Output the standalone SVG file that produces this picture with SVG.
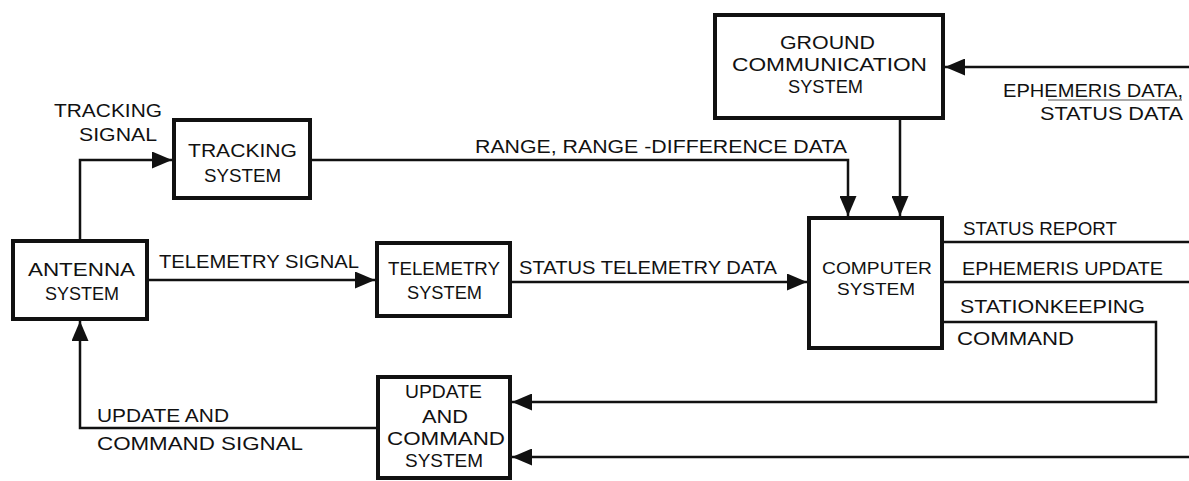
<svg xmlns="http://www.w3.org/2000/svg" width="1189" height="481" viewBox="0 0 1189 481">
  <style>
    .box { fill: #fff; stroke: #111; stroke-width: 4; }
    .wire { fill: none; stroke: #111; stroke-width: 2.5; }
    .lbl { font-family: "Liberation Sans", Arial, sans-serif; font-size: 19px; fill: #111; }
    .tight { font-size: 17px; }
  </style>
  <defs>
    <marker id="arrow" markerUnits="userSpaceOnUse" markerWidth="20" markerHeight="17" refX="20" refY="8.5" orient="auto">
      <path d="M0,0 L20,8.5 L0,17 Z" fill="#111"/>
    </marker>
  </defs>

  <rect width="1189" height="481" fill="#fff"/>

  <!-- connectors -->
  <g id="connectors">
    <path class="wire" d="M80,239 V160 H172" marker-end="url(#arrow)"/>
    <path class="wire" d="M149,280 H375" marker-end="url(#arrow)"/>
    <path class="wire" d="M512,282 H807" marker-end="url(#arrow)"/>
    <path class="wire" d="M312,160 H848 V216" marker-end="url(#arrow)"/>
    <path class="wire" d="M900,120 V216" marker-end="url(#arrow)"/>
    <path class="wire" d="M1189,67 H945" marker-end="url(#arrow)"/>
    <path class="wire" d="M944,242 H1189"/>
    <path class="wire" d="M944,282 H1189"/>
    <path class="wire" d="M944,322 H1156 V402 H512" marker-end="url(#arrow)"/>
    <path class="wire" d="M1189,457 H512" marker-end="url(#arrow)"/>
    <path class="wire" d="M376,428 H80 V321" marker-end="url(#arrow)"/>

    <text class="lbl" x="54" y="117" textLength="108" lengthAdjust="spacingAndGlyphs">TRACKING</text>
    <text class="lbl" x="79" y="141" textLength="78" lengthAdjust="spacingAndGlyphs">SIGNAL</text>
    <text class="lbl" x="159" y="268" textLength="200" lengthAdjust="spacingAndGlyphs">TELEMETRY SIGNAL</text>
    <text class="lbl" x="519" y="274" textLength="258" lengthAdjust="spacingAndGlyphs">STATUS TELEMETRY DATA</text>
    <text class="lbl" x="475" y="153" textLength="372" lengthAdjust="spacingAndGlyphs">RANGE, RANGE -DIFFERENCE DATA</text>
    <text class="lbl" x="1003" y="97" textLength="180" lengthAdjust="spacingAndGlyphs">EPHEMERIS DATA,</text>
    <line x1="1048" y1="100" x2="1182" y2="100" stroke="#555" stroke-width="1"/>
    <text class="lbl" x="1040" y="120" textLength="143" lengthAdjust="spacingAndGlyphs">STATUS DATA</text>
    <text class="lbl" x="963" y="235" textLength="154" lengthAdjust="spacingAndGlyphs">STATUS REPORT</text>
    <text class="lbl" x="962" y="275" textLength="201" lengthAdjust="spacingAndGlyphs">EPHEMERIS UPDATE</text>
    <text class="lbl" x="960" y="313" textLength="185" lengthAdjust="spacingAndGlyphs">STATIONKEEPING</text>
    <text class="lbl" x="957" y="345" textLength="117" lengthAdjust="spacingAndGlyphs">COMMAND</text>
    <text class="lbl" x="97" y="422" textLength="132" lengthAdjust="spacingAndGlyphs">UPDATE AND</text>
    <text class="lbl" x="97" y="450" textLength="206" lengthAdjust="spacingAndGlyphs">COMMAND SIGNAL</text>
  </g>

  <!-- nodes -->
  <g id="tracking-system">
    <rect class="box" x="174" y="120" width="136" height="78"/>
    <text class="lbl" x="188" y="157" textLength="109" lengthAdjust="spacingAndGlyphs">TRACKING</text>
    <text class="lbl" x="204" y="182" textLength="77" lengthAdjust="spacingAndGlyphs">SYSTEM</text>
  </g>

  <g id="antenna-system">
    <rect class="box" x="13" y="241" width="134" height="78"/>
    <text class="lbl" x="28" y="276" textLength="107" lengthAdjust="spacingAndGlyphs">ANTENNA</text>
    <text class="lbl" x="45" y="300" textLength="74" lengthAdjust="spacingAndGlyphs">SYSTEM</text>
  </g>

  <g id="telemetry-system">
    <rect class="box" x="377" y="243" width="133" height="73"/>
    <text class="lbl" x="388" y="275" textLength="112" lengthAdjust="spacingAndGlyphs">TELEMETRY</text>
    <text class="lbl" x="407" y="299" textLength="75" lengthAdjust="spacingAndGlyphs">SYSTEM</text>
  </g>

  <g id="computer-system">
    <rect class="box" x="809" y="218" width="133" height="130"/>
    <text class="lbl tight" x="822" y="274" textLength="110" lengthAdjust="spacingAndGlyphs">COMPUTER</text>
    <text class="lbl tight" x="837" y="295" textLength="78" lengthAdjust="spacingAndGlyphs">SYSTEM</text>
  </g>

  <g id="ground-communication-system">
    <rect class="box" x="715" y="15" width="228" height="103"/>
    <text class="lbl" x="780" y="49" textLength="95" lengthAdjust="spacingAndGlyphs">GROUND</text>
    <text class="lbl" x="732" y="71" textLength="195" lengthAdjust="spacingAndGlyphs">COMMUNICATION</text>
    <text class="lbl" x="788" y="93" textLength="75" lengthAdjust="spacingAndGlyphs">SYSTEM</text>
  </g>

  <g id="update-and-command-system">
    <rect class="box" x="378" y="377" width="132" height="101"/>
    <text class="lbl" x="405" y="398" textLength="77" lengthAdjust="spacingAndGlyphs">UPDATE</text>
    <text class="lbl" x="422" y="423" textLength="46" lengthAdjust="spacingAndGlyphs">AND</text>
    <text class="lbl" x="387" y="445" textLength="118" lengthAdjust="spacingAndGlyphs">COMMAND</text>
    <text class="lbl" x="405" y="467" textLength="78" lengthAdjust="spacingAndGlyphs">SYSTEM</text>
  </g>
</svg>
